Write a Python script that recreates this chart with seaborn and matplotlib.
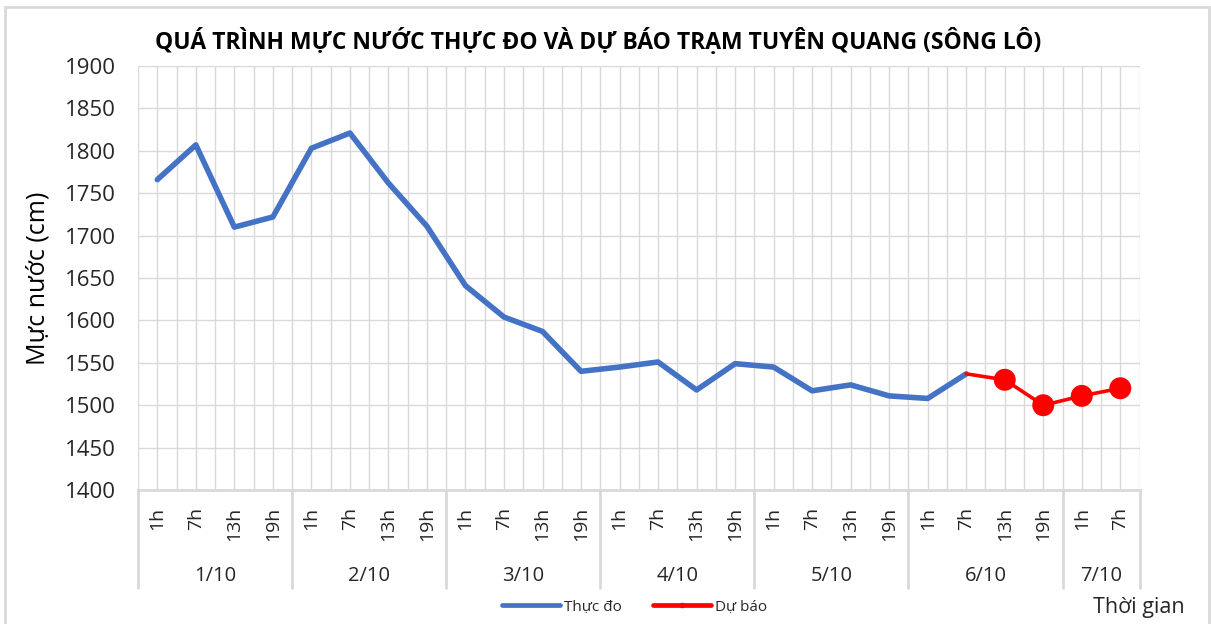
import matplotlib
matplotlib.use("Agg")
import matplotlib.pyplot as plt
import matplotlib.transforms as mtransforms
from matplotlib.lines import Line2D
from matplotlib.patches import Rectangle
import seaborn as sns
import pandas as pd

# data
days = ["1/10", "2/10", "3/10", "4/10", "5/10", "6/10", "7/10"]
hours_per_day = [["1h", "7h", "13h", "19h"]] * 6 + [["1h", "7h"]]
observed = [1766, 1807, 1710, 1722, 1803, 1821, 1762, 1711,
            1641, 1604, 1587, 1540, 1545, 1551, 1518, 1549,
            1545, 1517, 1524, 1511, 1508, 1537]
forecast = [1537, 1530, 1500, 1511, 1520]

tick_labels = [h for hs in hours_per_day for h in hs]
n = len(tick_labels)

df_obs = pd.DataFrame({"x": [i + 0.5 for i in range(len(observed))], "level": observed})
start = len(observed) - 1
df_fc = pd.DataFrame({"x": [start + i + 0.5 for i in range(len(forecast))], "level": forecast})

sns.set_theme(style="white")
fonts = ["Open Sans", "DejaVu Sans"]
plt.rcParams["font.family"] = fonts

fig = plt.figure(figsize=(12.11, 6.24), dpi=100)
ax = fig.add_axes([0.114, 0.2147, 0.827, 0.6795])

grid_c = "#D9D9D9"
# grid: horizontal every 50, vertical every half category
for v in range(1400, 1901, 50):
    ax.axhline(v, color=grid_c, lw=1.0, zorder=0)
for k in range(2 * n + 1):
    ax.axvline(k / 2, color=grid_c, lw=1.0, zorder=0)

sns.lineplot(data=df_obs, x="x", y="level", color="#4472C4", linewidth=4.0, ax=ax, zorder=3)
sns.lineplot(data=df_fc, x="x", y="level", color="#FF0000", linewidth=2.6, ax=ax, zorder=4)
sns.scatterplot(data=df_fc.iloc[1:], x="x", y="level", color="#FF0000", s=250,
                edgecolor="none", ax=ax, zorder=5)

ax.set_xlim(0, n)
ax.set_ylim(1400, 1900)
ax.set_yticks(range(1400, 1901, 50))
ax.tick_params(axis="y", labelsize=16, length=0, pad=16, labelcolor="#262626")
ax.set_xticks([i + 0.5 for i in range(n)])
ax.set_xticklabels(tick_labels, rotation=90, fontsize=14, color="#262626")
ax.tick_params(axis="x", length=0, pad=12)
ax.set_xlabel("")
ax.set_ylabel("Mực nước (cm)", fontsize=18, color="#000000", labelpad=10)

for s in ["top", "right", "left"]:
    ax.spines[s].set_visible(False)
ax.spines["bottom"].set_color(grid_c)
ax.spines["bottom"].set_linewidth(2)

# day group labels and separators below the axis
trans = mtransforms.blended_transform_factory(ax.transData, ax.transAxes)
pos = 0
bounds = [0]
for d, hs in zip(days, hours_per_day):
    ax.text(pos + len(hs) / 2, -0.202, d, transform=trans, ha="center", va="center",
            fontsize=14.5, color="#262626")
    pos += len(hs)
    bounds.append(pos)
for b in bounds:
    ax.plot([b, b], [0, -0.231], transform=trans, color=grid_c, lw=2, clip_on=False)

fig.text(0.494, 0.933, "QUÁ TRÌNH MỰC NƯỚC THỰC ĐO VÀ DỰ BÁO TRẠM TUYÊN QUANG (SÔNG LÔ)",
         ha="center", va="center", fontsize=16.5, fontweight="bold", color="#000000")
fig.text(0.94, 0.026, "Thời gian", ha="center", va="center", fontsize=15.5, color="#262626")

handles = [Line2D([], [], color="#4472C4", lw=3.4),
           Line2D([], [], color="#FF0000", lw=3.4, marker="o", markersize=3)]
fig.legend(handles, ["Thực đo", "Dự báo"], loc="center", bbox_to_anchor=(0.524, 0.027),
           ncol=2, frameon=False, fontsize=11, handlelength=3.8, handletextpad=0.3,
           columnspacing=2.0)

fig.add_artist(Rectangle((0.004, -0.01), 0.994, 0.999, transform=fig.transFigure,
                         fill=False, edgecolor=grid_c, lw=2))

fig.savefig("out.png", dpi=100)
